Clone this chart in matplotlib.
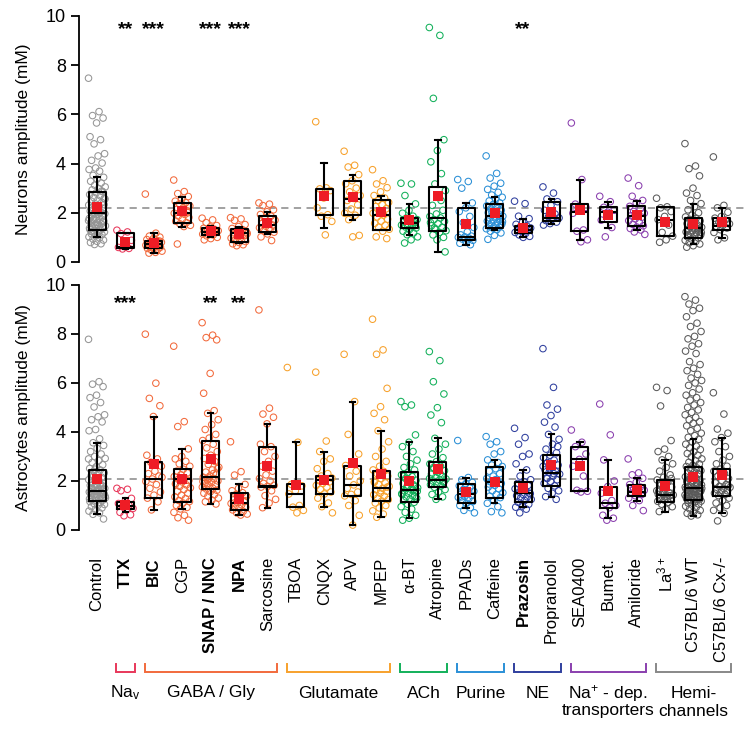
import matplotlib
matplotlib.use('Agg')
import matplotlib.pyplot as plt
import matplotlib.transforms as mtransforms
import numpy as np

plt.rcParams['font.family'] = ['Liberation Sans', 'DejaVu Sans']
plt.rcParams['mathtext.fontset'] = 'custom'
plt.rcParams['mathtext.rm'] = 'Liberation Sans'
plt.rcParams['mathtext.it'] = 'Liberation Sans'

# ---------------- data ----------------
categories = ['Control', 'TTX', 'BIC', 'CGP', 'SNAP / NNC', 'NPA', 'Sarcosine',
              'TBOA', 'CNQX', 'APV', 'MPEP', 'α-BT', 'Atropine', 'PPADs', 'Caffeine',
              'Prazosin', 'Propranolol', 'SEA0400', 'Bumet.', 'Amiloride',
              r'La$^{3+}$', 'C57BL/6 WT', 'C57BL/6 Cx-/-']
bold_labels = ['TTX', 'BIC', 'SNAP / NNC', 'NPA', 'Prazosin']

group_names = [r'Na$_{\mathregular{v}}$', 'GABA / Gly', 'Glutamate', 'ACh', 'Purine', 'NE',
               'Na$^{+}$ - dep.\ntransporters', 'Hemi-\nchannels']
group_first = [1, 2, 7, 11, 13, 15, 17, 20]
group_last = [1, 6, 10, 12, 14, 16, 19, 22]
group_colors = ['#e8375a', '#f26a3c', '#f7a12c', '#12b05a', '#2a8fd6', '#2f3f9e', '#8a3fae', '#888888']
control_color = '#959595'
hemi_point_color = '#5a5a5a'

neu_stars = {1: '**', 2: '***', 4: '***', 5: '***', 15: '**'}
ast_stars = {1: '***', 4: '**', 5: '**'}
neu_ref = 2.2
ast_ref = 2.1

# Neurons (top) box statistics; TBOA has no neuron data
n_q1 = [1.30, 0.57, 0.56, 1.60, 1.08, 0.83, 1.22, None, 1.90, 1.92, 1.31, 1.36, 1.27, 0.91, 1.38, 1.18, 1.65, 1.25, 1.61, 1.45, 1.04, 0.98, 1.31]
n_med = [1.98, 0.62, 0.72, 2.00, 1.23, 1.17, 1.50, None, 2.97, 2.56, 1.92, 1.59, 1.79, 1.02, 1.86, 1.31, 1.79, 2.03, 2.02, 1.88, 1.72, 1.36, 1.48]
n_q3 = [2.83, 1.17, 0.85, 2.41, 1.36, 1.33, 1.87, None, 2.97, 3.28, 2.51, 1.79, 3.04, 2.20, 2.36, 1.48, 2.44, 2.36, 2.22, 2.26, 2.24, 1.79, 1.79]
n_lo = [1.00, 0.53, 0.35, 1.44, 1.00, 0.79, 1.14, None, 1.38, 1.69, 1.30, 1.11, 0.41, 0.70, 1.31, 1.00, 1.54, 0.88, 1.38, 1.31, 1.04, 0.73, 0.98]
n_hi = [3.47, 1.17, 1.17, 2.65, 1.48, 1.44, 2.04, None, 4.02, 3.55, 2.70, 2.36, 4.97, 2.40, 2.63, 1.76, 2.56, 3.35, 2.45, 2.49, 2.24, 2.37, 2.20]
n_mean = [2.22, 0.80, 0.76, 2.06, 1.26, 1.14, 1.60, None, 2.70, 2.63, 2.02, 1.72, 2.70, 1.54, 1.98, 1.38, 2.03, 2.10, 1.91, 1.92, 1.64, 1.54, 1.64]

# Astrocytes (bottom) box statistics
a_q1 = [1.18, 0.84, 1.29, 1.16, 1.67, 0.82, 1.74, 0.93, 1.47, 1.39, 1.18, 1.13, 1.74, 1.09, 1.32, 1.13, 1.80, 1.58, 0.91, 1.40, 1.13, 1.22, 1.40]
a_med = [1.59, 0.98, 2.08, 2.07, 2.15, 1.12, 1.78, 1.47, 2.04, 1.84, 1.70, 1.63, 2.04, 1.46, 1.96, 1.50, 2.34, 2.88, 1.09, 1.56, 1.43, 1.70, 1.74]
a_q3 = [2.45, 1.16, 2.76, 2.48, 3.65, 1.52, 3.40, 1.86, 2.20, 2.63, 2.39, 2.35, 2.79, 1.89, 2.59, 1.97, 3.05, 3.40, 1.77, 1.85, 2.04, 2.59, 2.48]
a_lo = [0.64, 0.72, 0.82, 0.86, 1.06, 0.61, 0.91, 0.93, 0.95, 0.20, 0.52, 0.48, 1.25, 0.91, 1.09, 0.93, 1.36, 1.58, 0.48, 1.20, 0.75, 0.57, 0.68]
a_hi = [3.56, 1.29, 4.63, 3.31, 4.76, 1.86, 4.33, 3.58, 3.20, 5.24, 4.05, 3.58, 3.74, 2.14, 2.86, 2.45, 3.90, 3.58, 2.86, 2.11, 2.86, 3.70, 3.77]
a_mean = [2.08, 1.00, 2.69, 2.08, 2.90, 1.25, 2.61, 1.84, 2.04, 2.75, 2.27, 2.00, 2.50, 1.54, 1.97, 1.70, 2.65, 2.61, 1.59, 1.63, 1.81, 2.18, 2.24]

# Neurons individual points
n_control = [7.47, 6.11, 5.95, 5.85, 5.65, 5.09, 4.97, 4.80, 4.40, 4.31, 4.13, 4.02, 3.82, 3.76, 3.69, 3.52, 3.44, 3.37,
             3.28, 3.21, 3.12, 3.05, 2.98, 2.93, 2.86, 2.81, 2.74, 2.69, 2.62, 2.58, 2.51, 2.47, 2.42, 2.36, 2.31, 2.27,
             2.21, 2.16, 2.12, 2.07, 2.03, 1.99, 1.96, 1.93, 1.88, 1.84, 1.81, 1.77, 1.72, 1.69, 1.66, 1.61, 1.58, 1.55,
             1.51, 1.47, 1.44, 1.41, 1.38, 1.35, 1.32, 1.29, 1.26, 1.22, 1.18, 1.14, 1.11, 1.06, 1.02, 0.98, 0.93, 0.89,
             0.84, 0.79, 0.74, 0.71, 2.56, 2.18, 1.91, 1.64, 1.46, 1.37, 2.02, 1.74, 2.33, 1.53, 1.24, 2.88, 1.97, 1.68]
n_ttx = [1.29, 1.22, 1.15, 0.88, 0.62, 0.59, 0.55, 0.53]
n_bic = [2.76, 1.17, 1.05, 1.01, 0.95, 0.91, 0.86, 0.83, 0.80, 0.77, 0.74, 0.72, 0.70, 0.68, 0.65, 0.62, 0.60, 0.58,
         0.55, 0.52, 0.48, 0.44, 0.39, 0.36, 0.85]
n_cgp = [3.33, 2.86, 2.78, 2.66, 2.55, 2.47, 2.41, 2.36, 2.28, 2.21, 2.14, 2.08, 2.02, 1.98, 1.93, 1.87, 1.81, 1.74,
         1.66, 1.60, 1.55, 1.49, 1.44, 0.73, 2.00]
n_snap = [1.78, 1.71, 1.60, 1.48, 1.42, 1.37, 1.33, 1.30, 1.27, 1.25, 1.22, 1.20, 1.17, 1.13, 1.10, 1.06, 1.00, 0.95, 0.90, 1.24]
n_npa = [1.80, 1.75, 1.69, 1.52, 1.44, 1.36, 1.31, 1.26, 1.21, 1.17, 1.13, 1.08, 1.03, 0.97, 0.92, 0.87, 0.83, 0.79,
         0.74, 0.70, 0.66, 1.15]
n_sarc = [2.40, 2.35, 2.29, 2.12, 2.04, 1.93, 1.86, 1.78, 1.70, 1.63, 1.56, 1.50, 1.45, 1.39, 1.33, 1.27, 1.21, 1.14, 1.02, 0.87]
n_tboa = []
n_cnqx = [5.70, 3.01, 2.97, 2.90, 2.60, 2.20, 1.92, 1.86, 1.65, 1.10]
n_apv = [4.50, 3.93, 3.86, 3.55, 3.30, 3.18, 3.00, 2.85, 2.70, 2.58, 2.50, 2.32, 2.15, 1.98, 1.90, 1.72, 1.08, 1.02]
n_mpep = [3.75, 3.30, 3.17, 3.02, 2.85, 2.70, 2.60, 2.50, 2.42, 2.33, 2.25, 2.16, 2.07, 1.98, 1.91, 1.83, 1.74, 1.66,
          1.57, 1.49, 1.41, 1.33, 1.25, 1.02, 0.95]
n_abt = [3.20, 3.17, 2.70, 2.36, 2.10, 1.98, 1.86, 1.78, 1.72, 1.68, 1.63, 1.59, 1.55, 1.50, 1.46, 1.42, 1.38, 1.32,
         1.25, 1.18, 1.11, 1.02, 0.90, 0.77, 1.52]
n_atro = [9.53, 9.21, 6.65, 4.97, 4.53, 4.07, 3.59, 3.17, 2.90, 2.62, 2.30, 2.10, 1.95, 1.85, 1.79, 1.72, 1.65, 1.55,
          1.47, 1.40, 1.33, 1.27, 1.20, 1.10, 1.00, 0.90, 1.60, 2.50, 1.38, 0.41]
n_ppads = [3.35, 3.27, 3.00, 2.40, 2.20, 2.05, 1.85, 1.60, 1.40, 1.22, 1.10, 1.05, 1.02, 1.00, 0.97, 0.93, 0.88, 0.82, 0.76, 0.70]
n_caff = [4.31, 3.60, 3.41, 3.20, 3.08, 2.95, 2.83, 2.72, 2.63, 2.55, 2.48, 2.40, 2.34, 2.28, 2.22, 2.16, 2.10, 2.05,
          2.00, 1.95, 1.90, 1.86, 1.82, 1.78, 1.74, 1.70, 1.66, 1.62, 1.58, 1.54, 1.50, 1.46, 1.42, 1.38, 1.35, 1.31,
          1.25, 1.18, 1.08, 0.92, 1.88, 2.02, 1.64, 2.30]
n_praz = [2.47, 2.37, 1.86, 1.76, 1.62, 1.53, 1.47, 1.42, 1.38, 1.34, 1.31, 1.28, 1.24, 1.20, 1.16, 1.10, 1.04, 1.00]
n_prop = [3.05, 2.80, 2.56, 2.45, 2.30, 2.10, 1.95, 1.84, 1.79, 1.74, 1.68, 1.62, 1.56, 1.50]
n_sea = [5.65, 3.35, 2.35, 2.22, 2.08, 1.98, 1.30, 1.25, 0.90, 0.82]
n_bumet = [2.67, 2.45, 2.22, 2.10, 2.02, 1.70, 1.40, 1.02]
n_amil = [3.41, 3.10, 2.67, 2.50, 2.40, 2.26, 2.15, 2.05, 1.98, 1.92, 1.88, 1.82, 1.75, 1.68, 1.60, 1.53, 1.47, 1.42,
          1.36, 1.30, 1.22, 1.12]
n_la = [2.59, 2.24, 2.20, 2.05, 1.85, 1.72, 1.50, 1.20, 1.05, 0.90, 0.80]
n_wt = [4.81, 3.90, 3.79, 3.50, 3.00, 2.80, 2.70, 2.50, 2.37, 2.25, 2.12, 2.00, 1.90, 1.83, 1.78, 1.73, 1.67, 1.61,
        1.56, 1.50, 1.45, 1.41, 1.37, 1.34, 1.30, 1.26, 1.22, 1.18, 1.14, 1.10, 1.06, 1.02, 0.98, 0.93, 0.88, 0.83,
        0.78, 0.73, 0.66, 0.60, 1.36, 1.52, 1.20, 1.64, 1.08]
n_cx = [4.27, 2.30, 2.20, 2.02, 1.85, 1.78, 1.70, 1.62, 1.55, 1.49, 1.44, 1.38, 1.31, 1.20, 0.98, 0.90]

# Astrocytes individual points
a_control = [7.78, 6.05, 5.95, 5.85, 5.50, 5.40, 5.20, 5.02, 4.70, 4.62, 4.50, 4.41, 4.10, 4.05, 3.72, 3.56, 3.45, 3.33,
             3.20, 3.10, 3.00, 2.92, 2.83, 2.75, 2.66, 2.58, 2.51, 2.45, 2.39, 2.33, 2.27, 2.21, 2.15, 2.10, 2.05, 2.00,
             1.95, 1.90, 1.86, 1.82, 1.78, 1.74, 1.70, 1.67, 1.64, 1.61, 1.58, 1.55, 1.52, 1.49, 1.46, 1.43, 1.40, 1.37,
             1.34, 1.31, 1.28, 1.25, 1.22, 1.19, 1.16, 1.12, 1.08, 1.04, 1.00, 0.95, 0.90, 0.84, 0.77, 0.70, 0.64, 0.45,
             1.60, 1.57, 1.50, 1.44, 1.38, 1.63, 1.71, 1.80, 1.33, 1.27, 1.90, 2.20, 1.47, 1.56, 1.69, 1.53, 2.48, 2.90]
a_ttx = [1.70, 1.66, 1.60, 1.29, 1.16, 1.08, 1.00, 0.95, 0.88, 0.84, 0.72, 0.62, 0.58]
a_bic = [7.99, 5.99, 5.37, 5.07, 4.63, 3.05, 2.90, 2.76, 2.60, 2.40, 2.30, 2.20, 2.08, 1.98, 1.85, 1.70, 1.55, 1.42,
         1.30, 1.15, 0.82, 2.15]
a_cgp = [7.50, 4.42, 4.22, 3.31, 3.00, 2.90, 2.80, 2.70, 2.60, 2.48, 2.40, 2.33, 2.25, 2.18, 2.12, 2.07, 2.02, 1.96,
         1.90, 1.84, 1.78, 1.72, 1.65, 1.58, 1.50, 1.42, 1.35, 1.28, 1.20, 1.16, 1.10, 1.00, 0.92, 0.86, 0.72, 0.60,
         0.50, 0.40, 2.05, 1.88]
a_snap = [8.46, 7.95, 7.85, 7.76, 6.39, 5.58, 4.87, 4.76, 4.50, 4.30, 4.10, 3.90, 3.75, 3.65, 3.50, 3.35, 3.20, 3.05,
          2.92, 2.80, 2.68, 2.56, 2.45, 2.36, 2.28, 2.20, 2.15, 2.10, 2.05, 2.00, 1.95, 1.90, 1.85, 1.80, 1.75, 1.70,
          1.67, 1.62, 1.56, 1.50, 1.44, 1.38, 1.30, 1.22, 1.15, 1.06, 2.12, 1.98, 2.30, 1.88, 2.50]
a_npa = [3.60, 2.38, 2.24, 1.86, 1.70, 1.60, 1.52, 1.45, 1.38, 1.30, 1.23, 1.16, 1.12, 1.08, 1.03, 0.98, 0.93, 0.88,
         0.82, 0.76, 0.70, 0.65, 0.61, 1.10, 1.20]
a_sarc = [8.98, 4.97, 4.73, 4.60, 4.33, 3.50, 3.40, 3.20, 3.00, 2.80, 2.60, 2.40, 2.25, 2.10, 2.00, 1.90, 1.82, 1.78,
          1.75, 1.60, 1.40, 1.25, 1.10, 0.91]
a_tboa = [6.63, 3.58, 1.86, 1.80, 1.60, 1.47, 1.00, 0.93, 0.80, 0.70]
a_cnqx = [6.44, 3.63, 3.20, 2.90, 2.80, 2.50, 2.30, 2.20, 2.12, 2.06, 2.02, 1.96, 1.90, 1.82, 1.75, 1.66, 1.55, 1.47,
          1.30, 1.10, 0.95, 0.70]
a_apv = [7.17, 5.24, 3.90, 3.10, 2.75, 2.63, 2.40, 2.20, 2.00, 1.84, 1.70, 1.55, 1.45, 1.39, 1.20, 1.00, 0.60, 0.20]
a_mpep = [8.60, 7.35, 7.17, 5.78, 5.03, 4.76, 4.50, 4.05, 3.60, 3.30, 3.00, 2.80, 2.60, 2.45, 2.39, 2.30, 2.20, 2.10,
          2.00, 1.92, 1.85, 1.78, 1.70, 1.64, 1.58, 1.50, 1.44, 1.38, 1.30, 1.24, 1.18, 1.10, 1.00, 0.90, 0.78, 0.65,
          0.52, 1.75, 1.60, 1.95]
a_abt = [5.24, 5.10, 5.03, 3.88, 3.58, 3.40, 3.20, 3.00, 2.85, 2.70, 2.55, 2.45, 2.35, 2.25, 2.18, 2.10, 2.03, 1.97,
         1.90, 1.84, 1.78, 1.72, 1.66, 1.60, 1.55, 1.50, 1.45, 1.40, 1.35, 1.30, 1.25, 1.20, 1.13, 1.05, 0.95, 0.85,
         0.72, 0.60, 0.48, 0.40, 1.63, 1.70, 1.58, 1.92, 2.20, 1.38, 1.80, 1.48]
a_atro = [7.28, 6.91, 6.05, 5.55, 4.99, 4.69, 4.38, 3.74, 3.50, 3.30, 3.10, 2.95, 2.79, 2.70, 2.60, 2.50, 2.42, 2.35,
          2.28, 2.20, 2.14, 2.08, 2.04, 2.00, 1.95, 1.90, 1.85, 1.80, 1.74, 1.65, 1.55, 1.45, 1.35, 1.25, 2.10, 2.30,
          2.55, 1.98]
a_ppads = [3.65, 2.14, 2.05, 1.95, 1.89, 1.80, 1.72, 1.65, 1.58, 1.50, 1.46, 1.42, 1.38, 1.33, 1.28, 1.22, 1.16, 1.09,
           1.00, 0.91, 0.80, 0.70, 1.52, 1.35]
a_caff = [3.81, 3.60, 3.50, 3.20, 3.10, 2.86, 2.75, 2.65, 2.59, 2.50, 2.40, 2.30, 2.20, 2.10, 2.02, 1.96, 1.90, 1.82,
          1.75, 1.68, 1.60, 1.52, 1.45, 1.38, 1.32, 1.20, 1.09, 0.95, 0.75, 0.70, 2.05, 1.88]
a_praz = [4.15, 3.77, 3.50, 3.10, 3.00, 2.70, 2.45, 2.20, 2.05, 1.97, 1.90, 1.82, 1.75, 1.68, 1.60, 1.55, 1.50, 1.45,
          1.40, 1.35, 1.30, 1.25, 1.20, 1.13, 1.05, 0.98, 0.93, 0.85, 0.70, 1.48, 1.62]
a_prop = [7.40, 5.82, 5.10, 4.93, 4.67, 4.40, 4.20, 3.90, 3.70, 3.50, 3.30, 3.15, 3.05, 2.95, 2.85, 2.75, 2.65, 2.55,
          2.45, 2.38, 2.34, 2.28, 2.20, 2.12, 2.05, 1.98, 1.90, 1.80, 1.70, 1.60, 1.50, 1.36, 1.25, 2.50, 2.60, 2.30,
          2.10, 3.40]
a_sea = [4.08, 3.58, 3.40, 3.10, 2.88, 2.60, 2.20, 1.62, 1.58, 1.55]
a_bumet = [5.14, 3.88, 2.86, 2.00, 1.77, 1.50, 1.20, 1.09, 1.00, 0.91, 0.60, 0.48, 0.40]
a_amil = [2.90, 2.33, 2.25, 2.11, 1.95, 1.85, 1.75, 1.68, 1.62, 1.56, 1.50, 1.45, 1.40, 1.30, 1.20, 1.00, 0.79, 1.58]
a_la = [5.82, 5.69, 5.06, 3.65, 3.30, 3.20, 3.00, 2.86, 2.70, 2.55, 2.40, 2.25, 2.15, 2.04, 1.95, 1.85, 1.75, 1.65,
        1.58, 1.52, 1.47, 1.43, 1.38, 1.33, 1.28, 1.22, 1.17, 1.13, 1.05, 0.95, 0.85, 0.75, 1.40, 1.50, 1.60, 1.25,
        1.90, 2.10, 1.36, 1.45]
a_wt = [9.52, 9.38, 9.22, 9.05, 8.95, 8.70, 8.44, 8.30, 8.10, 7.90, 7.80, 7.60, 7.50, 7.30, 7.20, 6.87, 6.75, 6.60,
        6.50, 6.35, 6.20, 6.10, 6.00, 5.90, 5.75, 5.60, 5.50, 5.40, 5.30, 5.20, 5.10, 5.00, 4.90, 4.80, 4.70, 4.60,
        4.50, 4.42, 4.35, 4.25, 4.15, 4.05, 3.95, 3.85, 3.78, 3.70, 3.60, 3.50, 3.42, 3.35, 3.28, 3.20, 3.12, 3.05,
        2.98, 2.90, 2.83, 2.76, 2.70, 2.64, 2.59, 2.53, 2.47, 2.42, 2.37, 2.32, 2.27, 2.22, 2.17, 2.12, 2.08, 2.04,
        2.00, 1.96, 1.92, 1.88, 1.84, 1.80, 1.76, 1.73, 1.70, 1.67, 1.64, 1.61, 1.58, 1.55, 1.52, 1.49, 1.46, 1.43,
        1.40, 1.37, 1.34, 1.31, 1.28, 1.25, 1.22, 1.18, 1.14, 1.10, 1.06, 1.02, 0.97, 0.92, 0.86, 0.80, 0.74, 0.68,
        0.62, 0.57, 1.70, 1.68, 1.72, 1.50, 1.45, 1.35, 1.90, 2.10, 1.60, 1.30, 1.20, 2.30, 2.50, 1.75, 1.55, 1.42,
        1.26, 1.65, 2.00, 1.85]
a_cx = [5.60, 4.73, 4.12, 3.95, 3.77, 3.60, 3.40, 3.20, 3.00, 2.85, 2.70, 2.60, 2.48, 2.40, 2.30, 2.20, 2.10, 2.00,
        1.92, 1.85, 1.78, 1.74, 1.70, 1.65, 1.60, 1.55, 1.50, 1.45, 1.40, 1.30, 1.20, 1.10, 1.00, 0.90, 0.80, 0.68,
        0.37, 1.80, 1.62, 1.95]

neu_points = [n_control, n_ttx, n_bic, n_cgp, n_snap, n_npa, n_sarc, n_tboa, n_cnqx, n_apv, n_mpep, n_abt, n_atro,
              n_ppads, n_caff, n_praz, n_prop, n_sea, n_bumet, n_amil, n_la, n_wt, n_cx]
ast_points = [a_control, a_ttx, a_bic, a_cgp, a_snap, a_npa, a_sarc, a_tboa, a_cnqx, a_apv, a_mpep, a_abt, a_atro,
              a_ppads, a_caff, a_praz, a_prop, a_sea, a_bumet, a_amil, a_la, a_wt, a_cx]

# colour per category
cat_colors = [control_color] * len(categories)
for g, (f, l) in enumerate(zip(group_first, group_last)):
    for i in range(f, l + 1):
        cat_colors[i] = group_colors[g]
for i in range(20, 23):
    cat_colors[i] = hemi_point_color

# ---------------- figure ----------------
fig = plt.figure(figsize=(7.54, 7.32), dpi=100)
ax1 = fig.add_axes([0.1048, 0.6287, 0.8865, 0.3596])
ax2 = fig.add_axes([0.1048, 0.2626, 0.8865, 0.3582])


def draw_panel(ax, pts_list, q1, med, q3, lo, hi, mean, ref, stars, star_y, ylabel):
    for i, pts in enumerate(pts_list):
        if not pts:
            continue
        k = np.arange(len(pts))
        offs = ((k * 0.618034) % 1.0 - 0.5) * 0.6
        ax.scatter(i + offs, pts, s=22, facecolors='none', edgecolors=cat_colors[i],
                   linewidths=0.75, zorder=2, clip_on=False)
    stats, pos = [], []
    for i in range(len(categories)):
        if q1[i] is None:
            continue
        stats.append(dict(q1=q1[i], med=med[i], q3=q3[i], whislo=lo[i], whishi=hi[i], fliers=[]))
        pos.append(i)
    lw = 1.5
    ax.bxp(stats, positions=pos, widths=0.6, showfliers=False, capwidths=0.2,
           boxprops=dict(color='black', lw=lw), whiskerprops=dict(color='black', lw=lw),
           capprops=dict(color='black', lw=lw), medianprops=dict(color='black', lw=lw),
           manage_ticks=False, zorder=3)
    mpos = [i for i in range(len(categories)) if mean[i] is not None]
    mval = [mean[i] for i in mpos]
    ax.scatter(mpos, mval, marker='s', s=42, color='#ee1c25', zorder=5, linewidths=0)
    ax.axhline(ref, color='#9a9a9a', ls=(0, (4, 3)), lw=1.3, zorder=1)
    for i, s in stars.items():
        ax.text(i, star_y, s, ha='center', va='center', fontsize=14, fontweight='bold')
    ax.set_xlim(-0.634, 22.9)
    ax.set_ylim(-0.4, 10.3)
    ax.set_yticks([0, 2, 4, 6, 8, 10])
    ax.set_xticks([])
    for sp in ['top', 'right', 'bottom']:
        ax.spines[sp].set_visible(False)
    ax.spines['left'].set_bounds(0, 10)
    ax.spines['left'].set_linewidth(1.3)
    ax.tick_params(axis='y', labelsize=13, width=1.3, length=6)
    ax.text(-0.083, (5 + 0.4) / 10.7, ylabel, transform=ax.transAxes, rotation=90,
            ha='center', va='center', fontsize=12.5)
    ax.patch.set_visible(False)


draw_panel(ax1, neu_points, n_q1, n_med, n_q3, n_lo, n_hi, n_mean, neu_ref, neu_stars, 9.45,
           'Neurons amplitude (mM)')
draw_panel(ax2, ast_points, a_q1, a_med, a_q3, a_lo, a_hi, a_mean, ast_ref, ast_stars, 9.25,
           'Astrocytes amplitude (mM)')

# category labels
trans = mtransforms.blended_transform_factory(ax2.transData, fig.transFigure)
for i, lab in enumerate(categories):
    ax2.text(i, 1 - 557 / 732, lab, transform=trans, rotation=90, ha='center', va='top',
             fontsize=12, fontweight='bold' if lab in bold_labels else 'normal', clip_on=False)

# group brackets and names
y_top = 1 - 664 / 732
y_bot = 1 - 672 / 732
for g, (f, l) in enumerate(zip(group_first, group_last)):
    x0, x1 = f - 0.32, l + 0.32
    ax2.plot([x0, x0, x1, x1], [y_top, y_bot, y_bot, y_top], transform=trans,
             color=group_colors[g], lw=1.4, clip_on=False, solid_joinstyle='miter')
    lines = group_names[g].split('\n')
    for j, ln in enumerate(lines):
        ax2.text((f + l) / 2, 1 - (693 + 18 * j) / 732, ln, transform=trans, ha='center', va='center',
                 fontsize=12.5, clip_on=False)

fig.savefig('out.png', dpi=100)
